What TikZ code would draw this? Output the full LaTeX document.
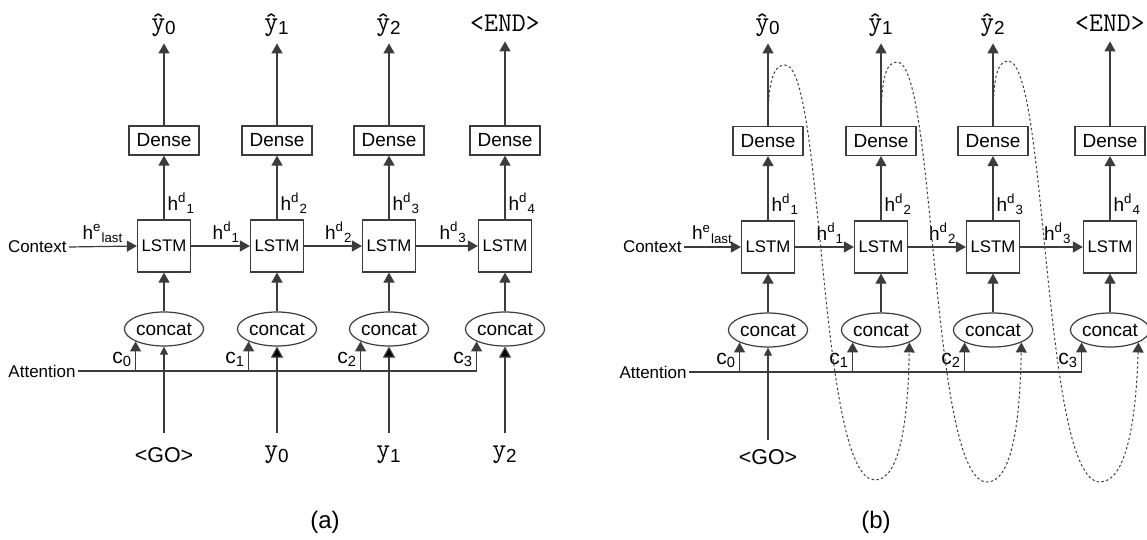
\documentclass[tikz,border=0pt]{standalone}
\usepackage{fontspec}
\setmainfont{Liberation Sans}
\usepackage{xcolor}
\usepackage{tikz}
\usetikzlibrary{arrows.meta,calc,shapes.geometric,positioning}
\definecolor{linegray}{HTML}{3C3C3C}

\begin{document}
\begin{tikzpicture}[x=0.5pt,y=-0.5pt,font=\fontsize{9.5}{11}\selectfont,
    lstm/.style={draw=linegray,line width=.6pt,minimum width=26.5pt,minimum height=26pt,
      inner sep=0pt,font=\fontsize{8.4}{10}\selectfont},
    dense/.style={draw=linegray,line width=.6pt,minimum width=35pt,minimum height=14.5pt,inner sep=0pt},
    cat/.style={ellipse,draw=linegray,line width=.6pt,minimum width=39.5pt,minimum height=17pt,inner sep=0pt},
    outlbl/.style={font=\ttfamily\fontsize{13.5}{15}\selectfont,minimum height=18pt,inner sep=0pt},
    inlbl/.style={minimum height=22pt,inner sep=0pt},
    side/.style={font=\fontsize{8.5}{10}\selectfont,inner sep=1pt},
    lbl/.style={inner sep=1.5pt},
    clbl/.style={inner sep=1.5pt,font=\fontsize{10.5}{12}\selectfont},
    line/.style={draw=linegray,line width=.6pt},
    arr/.style={line,-{Triangle[width=5.5pt,length=5pt]}},
    smallarr/.style={line,-{Triangle[width=4pt,length=4pt]}},
    inarr/.style={line,-{Triangle[width=6pt,length=5.5pt,fill=black]}},
    feed/.style={arr,dash pattern=on 1.2pt off 1.2pt,line width=.5pt}]
  \useasboundingbox (0,0) rectangle (1147,540);

  % (a) teacher forcing
  \node[side,anchor=east] (ctxa) at (69,247) {Context};
  \node[side,anchor=east] (atta) at (78,371) {Attention};

  \node[lstm] (la0) at (164,246) {LSTM};
  \node[lstm] (la1) at (277,246) {LSTM};
  \node[lstm] (la2) at (389,246) {LSTM};
  \node[lstm] (la3) at (505,246) {LSTM};
  \node[dense] (da0) at (164,140.5) {Dense};
  \node[dense] (da1) at (277,140.5) {Dense};
  \node[dense] (da2) at (389,140.5) {Dense};
  \node[dense] (da3) at (505,140.5) {Dense};
  \node[cat] (ca0) at (164,329) {concat};
  \node[cat] (ca1) at (277,329) {concat};
  \node[cat] (ca2) at (389,329) {concat};
  \node[cat] (ca3) at (505,329) {concat};
  \node[outlbl] (oa0) at (164,25) {\^y\textsubscript{\rmfamily0}};
  \node[outlbl] (oa1) at (277,25) {\^y\textsubscript{\rmfamily1}};
  \node[outlbl] (oa2) at (389,25) {\^y\textsubscript{\rmfamily2}};
  \node[outlbl] (oa3) at (505,23) {<END>};
  \node[inlbl] (ia0) at (164,455) {\fontsize{10.7}{12}\selectfont<GO>};
  \node[inlbl,outlbl,minimum height=22pt] (ia1) at (277,455) {y\textsubscript{\rmfamily0}};
  \node[inlbl,outlbl,minimum height=22pt] (ia2) at (389,455) {y\textsubscript{\rmfamily1}};
  \node[inlbl,outlbl,minimum height=22pt] (ia3) at (505,455) {y\textsubscript{\rmfamily2}};

  \draw[arr] (ctxa.east) -- (la0.west) node[lbl,pos=.5,above] {h\textsuperscript{e}\textsubscript{last}};
  \draw[arr] (la0.east) -- (la1.west) node[lbl,pos=.6,above] {h\textsuperscript{d}\textsubscript{1}};
  \draw[arr] (la1.east) -- (la2.west) node[lbl,pos=.6,above] {h\textsuperscript{d}\textsubscript{2}};
  \draw[arr] (la2.east) -- (la3.west) node[lbl,pos=.6,above] {h\textsuperscript{d}\textsubscript{3}};
  \draw[arr] (la0.north) -- (da0.south) node[lbl,pos=.25,right] {h\textsuperscript{d}\textsubscript{1}};
  \draw[arr] (la1.north) -- (da1.south) node[lbl,pos=.25,right] {h\textsuperscript{d}\textsubscript{2}};
  \draw[arr] (la2.north) -- (da2.south) node[lbl,pos=.25,right] {h\textsuperscript{d}\textsubscript{3}};
  \draw[arr] (la3.north) -- (da3.south) node[lbl,pos=.25,right] {h\textsuperscript{d}\textsubscript{4}};
  \draw[arr] (da0.north) -- (oa0.south);
  \draw[arr] (da1.north) -- (oa1.south);
  \draw[arr] (da2.north) -- (oa2.south);
  \draw[arr] (da3.north) -- (oa3.south);
  \draw[arr] (ca0.north) -- (la0.south);
  \draw[arr] (ca1.north) -- (la1.south);
  \draw[arr] (ca2.north) -- (la2.south);
  \draw[arr] (ca3.north) -- (la3.south);
  \draw[line] (atta.east) -- (ca3.south west |- atta.east);
  \draw[arr] (ca0.south west |- atta.east) -- (ca0.south west) node[clbl,pos=.4,left] {c\textsubscript{0}};
  \draw[arr] (ca1.south west |- atta.east) -- (ca1.south west) node[clbl,pos=.4,left] {c\textsubscript{1}};
  \draw[arr] (ca2.south west |- atta.east) -- (ca2.south west) node[clbl,pos=.4,left] {c\textsubscript{2}};
  \draw[arr] (ca3.south west |- atta.east) -- (ca3.south west) node[clbl,pos=.4,left] {c\textsubscript{3}};
  \draw[smallarr] (ia0.north) -- (ca0.south);
  \draw[inarr] (ia1.north) -- (ca1.south);
  \draw[inarr] (ia2.north) -- (ca2.south);
  \draw[inarr] (ia3.north) -- (ca3.south);
  \node[font=\fontsize{12}{14}\selectfont] (capa) at (325,522) {(a)};

  % (b) feeding back predictions
  \node[side,anchor=east] (ctxb) at (684,247) {Context};
  \node[side,anchor=east] (attb) at (689,372) {Attention};

  \node[lstm] (lb0) at (768,247) {LSTM};
  \node[lstm] (lb1) at (881,247) {LSTM};
  \node[lstm] (lb2) at (993,247) {LSTM};
  \node[lstm] (lb3) at (1110,247) {LSTM};
  \node[dense] (db0) at (768,141) {Dense};
  \node[dense] (db1) at (881,141) {Dense};
  \node[dense] (db2) at (993,141) {Dense};
  \node[dense] (db3) at (1110,141) {Dense};
  \node[cat] (cb0) at (768,330) {concat};
  \node[cat] (cb1) at (881,330) {concat};
  \node[cat] (cb2) at (993,330) {concat};
  \node[cat] (cb3) at (1110,330) {concat};
  \node[outlbl] (ob0) at (768,25) {\^y\textsubscript{\rmfamily0}};
  \node[outlbl] (ob1) at (881,25) {\^y\textsubscript{\rmfamily1}};
  \node[outlbl] (ob2) at (993,25) {\^y\textsubscript{\rmfamily2}};
  \node[outlbl] (ob3) at (1110,23) {<END>};
  \node[inlbl,minimum height=17pt] (ib0) at (768,457) {\fontsize{10.7}{12}\selectfont<GO>};

  \draw[arr] (ctxb.east) -- (lb0.west) node[lbl,pos=.5,above] {h\textsuperscript{e}\textsubscript{last}};
  \draw[arr] (lb0.east) -- (lb1.west) node[lbl,pos=.6,above] {h\textsuperscript{d}\textsubscript{1}};
  \draw[arr] (lb1.east) -- (lb2.west) node[lbl,pos=.6,above] {h\textsuperscript{d}\textsubscript{2}};
  \draw[arr] (lb2.east) -- (lb3.west) node[lbl,pos=.6,above] {h\textsuperscript{d}\textsubscript{3}};
  \draw[arr] (lb0.north) -- (db0.south) node[lbl,pos=.25,right] {h\textsuperscript{d}\textsubscript{1}};
  \draw[arr] (lb1.north) -- (db1.south) node[lbl,pos=.25,right] {h\textsuperscript{d}\textsubscript{2}};
  \draw[arr] (lb2.north) -- (db2.south) node[lbl,pos=.25,right] {h\textsuperscript{d}\textsubscript{3}};
  \draw[arr] (lb3.north) -- (db3.south) node[lbl,pos=.25,right] {h\textsuperscript{d}\textsubscript{4}};
  \draw[arr] (db0.north) -- (ob0.south);
  \draw[arr] (db1.north) -- (ob1.south);
  \draw[arr] (db2.north) -- (ob2.south);
  \draw[arr] (db3.north) -- (ob3.south);
  \draw[arr] (cb0.north) -- (lb0.south);
  \draw[arr] (cb1.north) -- (lb1.south);
  \draw[arr] (cb2.north) -- (lb2.south);
  \draw[arr] (cb3.north) -- (lb3.south);
  \draw[line] (attb.east) -- (cb3.south west |- attb.east);
  \draw[arr] (cb0.south west |- attb.east) -- (cb0.south west) node[clbl,pos=.4,left] {c\textsubscript{0}};
  \draw[arr] (cb1.south west |- attb.east) -- (cb1.south west) node[clbl,pos=.4,left] {c\textsubscript{1}};
  \draw[arr] (cb2.south west |- attb.east) -- (cb2.south west) node[clbl,pos=.4,left] {c\textsubscript{2}};
  \draw[arr] (cb3.south west |- attb.east) -- (cb3.south west) node[clbl,pos=.4,left] {c\textsubscript{3}};
  \draw[smallarr] (ib0.north) -- (cb0.south);
  % predictions fed back as next input
  \draw[feed] (db0.north) .. controls (768,85) and (772,65) .. (785,65)
    .. controls (824,65) and (818,480) .. (875,480)
    .. controls (900,480) and (908,420) .. (cb1.south east);
  \draw[feed] (db1.north) .. controls (881,82) and (885,62) .. (897,62)
    .. controls (936,62) and (930,482) .. (987,482)
    .. controls (1012,482) and (1020,422) .. (cb2.south east);
  \draw[feed] (db2.north) .. controls (993,82) and (996,61) .. (1008,61)
    .. controls (1048,61) and (1042,482) .. (1100,482)
    .. controls (1126,482) and (1136,422) .. (cb3.south east);
  \node[font=\fontsize{12}{14}\selectfont] (capb) at (876,522) {(b)};
\end{tikzpicture}
\end{document}
